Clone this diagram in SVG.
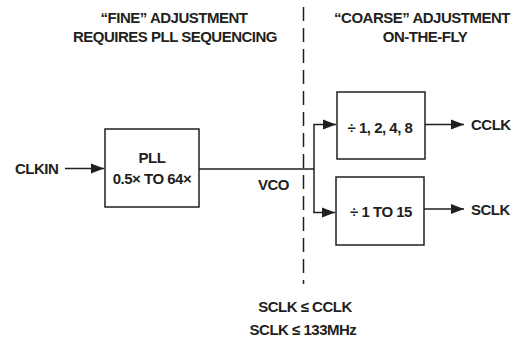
<svg xmlns="http://www.w3.org/2000/svg" width="522" height="339" viewBox="0 0 522 339">
<style>
text{font-family:"Liberation Sans",Arial,sans-serif;font-weight:bold;font-size:15px;letter-spacing:-0.5px;fill:#231f20;}
.box{fill:#fff;stroke:#231f20;stroke-width:1.5;}
.wire{fill:none;stroke:#231f20;stroke-width:1.5;}
.dash{fill:none;stroke:#231f20;stroke-width:1.5;stroke-dasharray:14 7;}
</style>
<defs>
<marker id="arr" markerUnits="userSpaceOnUse" markerWidth="14" markerHeight="12" refX="13" refY="6" orient="auto">
<path d="M0,1 L13,6 L0,11 Z" fill="#231f20"/>
</marker>
</defs>
<g id="headings">
<text x="174" y="23" text-anchor="middle">“FINE” ADJUSTMENT</text>
<text x="175" y="42" text-anchor="middle">REQUIRES PLL SEQUENCING</text>
<text x="422" y="23" text-anchor="middle">“COARSE” ADJUSTMENT</text>
<text x="425" y="42" text-anchor="middle">ON-THE-FLY</text>
</g>
<g id="divider">
<line class="dash" x1="303.5" y1="7" x2="303.5" y2="284"/>
</g>
<g id="connectors">
<line class="wire" x1="65" y1="168.5" x2="104" y2="168.5" marker-end="url(#arr)"/>
<polyline class="wire" points="199,169 314,169"/>
<polyline class="wire" points="314,124.5 314,212.5"/>
<line class="wire" x1="313.25" y1="124.5" x2="336" y2="124.5" marker-end="url(#arr)"/>
<line class="wire" x1="313.25" y1="212.5" x2="335" y2="212.5" marker-end="url(#arr)"/>
<line class="wire" x1="425" y1="124.5" x2="464" y2="124.5" marker-end="url(#arr)"/>
<line class="wire" x1="424" y1="209" x2="464" y2="209" marker-end="url(#arr)"/>
</g>
<g id="clkin"><text x="15" y="173.5">CLKIN</text></g>
<g id="pll">
<rect class="box" x="105" y="129" width="94" height="78"/>
<text x="152" y="162.5" text-anchor="middle">PLL</text>
<text x="152" y="184" text-anchor="middle">0.5× TO 64×</text>
</g>
<g id="vco"><text x="273.5" y="190" text-anchor="middle">VCO</text></g>
<g id="div1">
<rect class="box" x="337" y="92" width="88" height="67"/>
<text x="380" y="133" text-anchor="middle">÷ 1, 2, 4, 8</text>
</g>
<g id="div2">
<rect class="box" x="336" y="177" width="88" height="68"/>
<text x="381" y="216.5" text-anchor="middle">÷ 1 TO 15</text>
</g>
<g id="cclk"><text x="471" y="130">CCLK</text></g>
<g id="sclk"><text x="471" y="214.5">SCLK</text></g>
<g id="constraints">
<text x="305" y="312" text-anchor="middle">SCLK ≤ CCLK</text>
<text x="303" y="334.5" text-anchor="middle">SCLK ≤ 133MHz</text>
</g>
</svg>
